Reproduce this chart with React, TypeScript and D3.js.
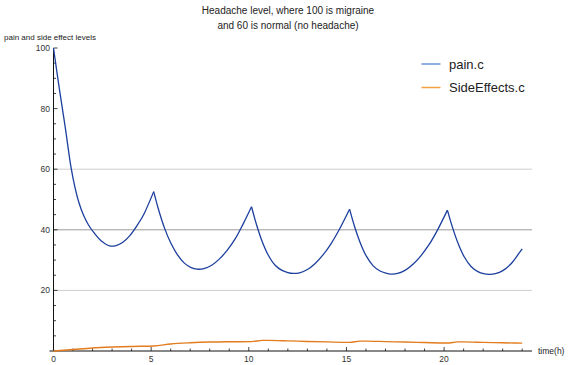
import * as d3 from "d3";
import { useEffect, useRef } from "react";

const chartTitle = ["Headache level, where 100 is migraine", "and 60 is normal (no headache)"];
const yLabel = "pain and side effect levels";
const xLabel = "time(h)";
const seriesNames = ["pain.c", "SideEffects.c"];

// pain level, split at each dose (the cusps)
const painSegments: [number, number][][] = [
  [
    [0, 100], [0.3, 86.5], [0.6, 73.9], [0.9, 60.5], [1.1, 54], [1.3, 49], [1.55, 44.6],
    [1.8, 41.5], [2.1, 38.8], [2.45, 36.3], [2.87, 34.7], [3.2, 34.8], [3.55, 35.9],
    [3.9, 38.0], [4.25, 41.1], [4.6, 44.8], [5.13, 52.6],
  ],
  [
    [5.13, 52.6], [5.4, 46.2], [5.7, 40.3], [6.0, 35.7], [6.35, 31.7], [6.7, 29.0],
    [7.05, 27.5], [7.35, 27.0], [7.7, 27.2], [8.1, 28.3], [8.5, 30.4], [8.9, 33.3],
    [9.3, 37.0], [9.7, 41.8], [10.14, 47.6],
  ],
  [
    [10.14, 47.6], [10.4, 41.6], [10.7, 35.9], [11.0, 31.6], [11.35, 28.3], [11.7, 26.6],
    [12.0, 25.9], [12.27, 25.6], [12.6, 25.8], [13.0, 26.9], [13.4, 28.9], [13.8, 31.7],
    [14.2, 35.3], [14.6, 39.7], [15.16, 46.8],
  ],
  [
    [15.16, 46.8], [15.42, 41.0], [15.72, 35.5], [16.02, 31.3], [16.37, 28.1], [16.72, 26.4],
    [17.02, 25.7], [17.29, 25.4], [17.62, 25.6], [18.02, 26.7], [18.42, 28.7], [18.82, 31.5],
    [19.22, 35.0], [19.62, 39.4], [20.17, 46.5],
  ],
  [
    [20.17, 46.5], [20.43, 40.8], [20.73, 35.3], [21.03, 31.1], [21.38, 27.9], [21.73, 26.2],
    [22.03, 25.5], [22.3, 25.3], [22.63, 25.5], [23.03, 26.6], [23.43, 28.8], [23.83, 32.2],
    [24, 33.7],
  ],
];

const sideEffects: [number, number][] = [
  [0, 0], [1, 0.5], [2, 1.0], [3, 1.3], [4, 1.5], [5.13, 1.65], [6, 2.3], [7, 2.7],
  [8, 2.95], [9, 3.05], [10.14, 3.1], [10.7, 3.5], [11, 3.5], [12, 3.35], [13, 3.15],
  [14, 3.0], [15.16, 2.85], [15.7, 3.25], [16, 3.25], [17, 3.1], [18, 2.95], [19, 2.8],
  [20.17, 2.65], [20.7, 3.0], [21, 3.0], [22, 2.85], [23, 2.7], [24, 2.6],
];

const yMajor = [20, 40, 60, 80, 100];
const xMajor = [0, 5, 10, 15, 20];
const gridValues = [20, 40, 60];

const App = () => {
  const ref = useRef<SVGSVGElement>(null);

  useEffect(() => {
    const width = 570;
    const height = 365;
    const font = "'Liberation Sans', Arial, sans-serif";
    const painColor = "#1c3f9e";
    const sideColor = "#e27c1e";

    const x = d3.scaleLinear().domain([0, 24]).range([53.5, 522.2]);
    const y = d3.scaleLinear().domain([0, 100]).range([351, 48]);
    const axisEnd = 532;

    const svg = d3.select(ref.current);
    svg.selectAll("*").remove();
    svg.attr("width", width).attr("height", height).style("font-family", font);

    // title
    svg
      .append("g")
      .selectAll("text")
      .data(chartTitle)
      .join("text")
      .attr("x", 288)
      .attr("y", (d, i) => 14 + i * 15)
      .attr("text-anchor", "middle")
      .style("font-size", "10px")
      .attr("fill", "#222")
      .text((d) => d);

    svg
      .append("text")
      .attr("x", 4)
      .attr("y", 40)
      .style("font-size", "8px")
      .attr("fill", "#222")
      .text(yLabel);

    // grid lines
    svg
      .append("g")
      .selectAll("line")
      .data(gridValues)
      .join("line")
      .attr("x1", x(0))
      .attr("x2", axisEnd)
      .attr("y1", (d) => y(d))
      .attr("y2", (d) => y(d))
      .attr("stroke", (d) => (d === 40 ? "#9a9a9a" : "#cfcfcf"))
      .attr("stroke-width", 1);

    // axes
    const axes = svg.append("g").attr("stroke", "#111");
    axes
      .append("line")
      .attr("x1", x(0))
      .attr("x2", x(0))
      .attr("y1", y(0))
      .attr("y2", y(100))
      .attr("stroke-width", 1);
    axes
      .append("line")
      .attr("x1", x(0) - 4)
      .attr("x2", axisEnd)
      .attr("y1", y(0))
      .attr("y2", y(0))
      .attr("stroke-width", 1);

    // y ticks
    axes
      .append("g")
      .selectAll("line")
      .data(d3.range(5, 101, 5))
      .join("line")
      .attr("x1", x(0))
      .attr("x2", (d) => x(0) + (d % 20 === 0 ? 4 : 2.5))
      .attr("y1", (d) => y(d))
      .attr("y2", (d) => y(d))
      .attr("stroke-width", 0.8);

    // x ticks
    axes
      .append("g")
      .selectAll("line")
      .data(d3.range(1, 25, 1))
      .join("line")
      .attr("x1", (d) => x(d))
      .attr("x2", (d) => x(d))
      .attr("y1", y(0))
      .attr("y2", (d) => y(0) - (d % 5 === 0 ? 4 : 2.5))
      .attr("stroke-width", 0.8);

    svg
      .append("g")
      .selectAll("text")
      .data(yMajor)
      .join("text")
      .attr("x", 50)
      .attr("y", (d) => y(d))
      .attr("dy", "0.35em")
      .attr("text-anchor", "end")
      .style("font-size", "8.5px")
      .attr("fill", "#333")
      .text((d) => d);

    svg
      .append("g")
      .selectAll("text")
      .data(xMajor)
      .join("text")
      .attr("x", (d) => x(d))
      .attr("y", 362)
      .attr("text-anchor", "middle")
      .style("font-size", "8.5px")
      .attr("fill", "#333")
      .text((d) => d);

    svg
      .append("text")
      .attr("x", 538)
      .attr("y", y(0))
      .attr("dy", "0.35em")
      .style("font-size", "8.5px")
      .attr("fill", "#222")
      .text(xLabel);

    // series
    const line = d3
      .line<[number, number]>()
      .x((d) => x(d[0]))
      .y((d) => y(d[1]))
      .curve(d3.curveCatmullRom.alpha(0.5));

    svg
      .append("g")
      .selectAll("path")
      .data(painSegments)
      .join("path")
      .attr("d", (d) => line(d))
      .attr("fill", "none")
      .attr("stroke", painColor)
      .attr("stroke-width", 1.3)
      .attr("stroke-linejoin", "miter");

    svg
      .append("path")
      .attr("d", line.curve(d3.curveMonotoneX)(sideEffects))
      .attr("fill", "none")
      .attr("stroke", sideColor)
      .attr("stroke-width", 1.4);

    // legend
    const legendColors = ["#6a93d4", "#f0a23c"];
    const legend = svg
      .append("g")
      .selectAll("g")
      .data(seriesNames)
      .join("g")
      .attr("transform", (d, i) => `translate(421.5, ${64 + i * 23.5})`);
    legend
      .append("line")
      .attr("x1", 0)
      .attr("x2", 19)
      .attr("stroke", (d, i) => legendColors[i])
      .attr("stroke-width", 1.5);
    legend
      .append("text")
      .attr("x", 27.5)
      .attr("dy", "0.35em")
      .style("font-size", "13px")
      .attr("fill", "#222")
      .text((d) => d);
  }, []);

  return <svg ref={ref} style={{ position: "absolute", left: 0, top: 0 }}></svg>;
};

export default App;
